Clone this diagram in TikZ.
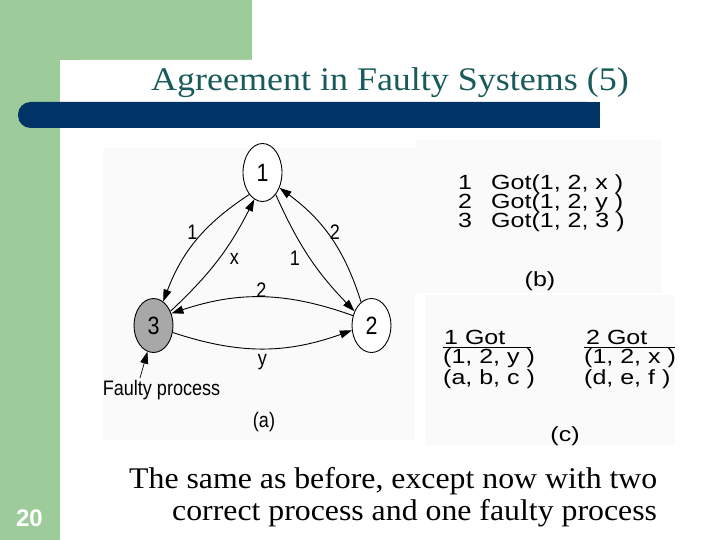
\documentclass[tikz,border=0pt]{standalone}
\usepackage{fontspec}
\usepackage{graphicx}
\setmainfont{Liberation Serif}
\newfontfamily\arialf{Liberation Sans}
\usetikzlibrary{arrows.meta,shapes.geometric}
\definecolor{slidegreen}{RGB}{158,203,154}
\definecolor{slidenavy}{RGB}{0,51,102}
\definecolor{titleteal}{RGB}{25,90,90}
\definecolor{panelbg}{RGB}{250,250,250}
\definecolor{faultgray}{RGB}{168,168,168}
\tikzset{
  proc/.style={ellipse,draw=black,line width=0.9pt,fill=white,minimum width=39pt,minimum height=54pt,inner sep=0pt,
    font=\arialf\fontsize{25}{25}\selectfont},
  msg/.style={line width=0.9pt,-{Triangle[length=12pt,width=8pt]}},
  lbl/.style={inner sep=0pt,font=\arialf\fontsize{21}{21}\selectfont},
  txt/.style={inner sep=0pt,font=\arialf\fontsize{20.5}{20.5}\selectfont},
}
\newcommand{\sqz}[1]{\scalebox{0.86}[1]{#1}}
\newcommand{\wid}[1]{\scalebox{1.22}[1]{#1}}
\begin{document}
\begin{tikzpicture}[x=1pt,y=-1pt]
\useasboundingbox (0,0) rectangle (720,540);
% slide background
\fill[slidegreen] (0,0) rectangle (60,540);
\fill[slidegreen] (0,0) rectangle (252,60);
\fill[white,rounded corners=20pt] (60,60) rectangle (760,580);
\fill[slidenavy,rounded corners=12.5pt] (18,102) rectangle (600,128);
\fill[slidenavy] (570,102) rectangle (600,128);
\node[inner sep=0pt,anchor=base,text=titleteal,font=\fontsize{33}{33}\selectfont] (title) at (390,91) {\scalebox{1.09}[1]{Agreement in Faulty Systems (5)}};
\node[inner sep=0pt,text=white,font=\arialf\bfseries\fontsize{24}{24}\selectfont] (pagenum) at (29.5,518) {20};
% panel backgrounds
\fill[panelbg] (103,148) rectangle (415,440);
\fill[panelbg] (415,140) rectangle (662,293);
\fill[panelbg] (425,295) rectangle (675,445);
% (a) graph
\node[proc,minimum height=58pt] (n1) at (262.5,172.5) {\sqz{1}};
\node[proc] (n2) at (371.5,325.5) {\sqz{2}};
\node[proc,fill=faultgray] (n3) at (153.5,325.5) {\sqz{3}};
\draw[msg] (n1.239) to[bend right=18] (n3.68);
\draw[msg] (n3.40) to[bend right=10] (n1.253);
\draw[msg] (n1.301) to[bend right=10] (n2.140);
\draw[msg] (n2.114) to[bend right=18] (n1.318);
\draw[msg] (n2.152) to[bend right=19] (n3.34);
\draw[msg] (n3.340) to[bend right=19] (n2.194);
\coordinate (fp) at (140,378);
\draw[line width=0.7pt,-{Triangle[length=12pt,width=8pt]}] (fp) -- (n3.257);
\node[lbl] (l13) at (192.5,232.5) {\sqz{1}};
\node[lbl] (l31) at (234.5,259) {\sqz{x}};
\node[lbl] (l12) at (295,258) {\sqz{1}};
\node[lbl] (l21) at (335,232.5) {\sqz{2}};
\node[lbl] (l23) at (261.5,290) {\sqz{2}};
\node[lbl] (l32) at (262.5,362) {\sqz{y}};
\node[lbl,anchor=base] (faulty) at (161.5,395) {\sqz{Faulty process}};
\node[lbl] (capa) at (264,422.5) {\sqz{(a)}};
% (b)
\node[txt,anchor=base west] (b1n) at (458,190) {\wid{1}};
\node[txt,anchor=base west] (b1t) at (491,190) {\wid{Got(1, 2, x )}};
\node[txt,anchor=base west] (b2n) at (458,209) {\wid{2}};
\node[txt,anchor=base west] (b2t) at (491,209) {\wid{Got(1, 2, y )}};
\node[txt,anchor=base west] (b3n) at (458,228) {\wid{3}};
\node[txt,anchor=base west] (b3t) at (491,228) {\wid{Got(1, 2, 3 )}};
\node[txt] (capb) at (540,281) {\wid{(b)}};
% (c)
\node[txt,anchor=base west] (c1h) at (444,344) {\wid{1 Got}};
\draw[line width=0.8pt] (443,347.5) -- (531,347.5);
\node[txt,anchor=base west] (c1a) at (443,363.5) {\wid{(1, 2, y )}};
\node[txt,anchor=base west] (c1b) at (443,384) {\wid{(a, b, c )}};
\node[txt,anchor=base west] (c2h) at (586,344) {\wid{2 Got}};
\draw[line width=0.8pt] (584,347.5) -- (675,347.5);
\node[txt,anchor=base west] (c2a) at (584,363.5) {\wid{(1, 2, x )}};
\node[txt,anchor=base west] (c2b) at (584,384) {\wid{(d, e, f )}};
\node[txt] (capc) at (565,436) {\wid{(c)}};
% caption text
\node[inner sep=0pt,anchor=base west,font=\fontsize{30}{30}\selectfont] (t1) at (129,488) {\scalebox{1.06}[1]{The same as before, except now with two}};
\node[inner sep=0pt,anchor=base west,font=\fontsize{30}{30}\selectfont] (t2) at (172,520) {\scalebox{1.06}[1]{correct process and one faulty process}};
\end{tikzpicture}
\end{document}
